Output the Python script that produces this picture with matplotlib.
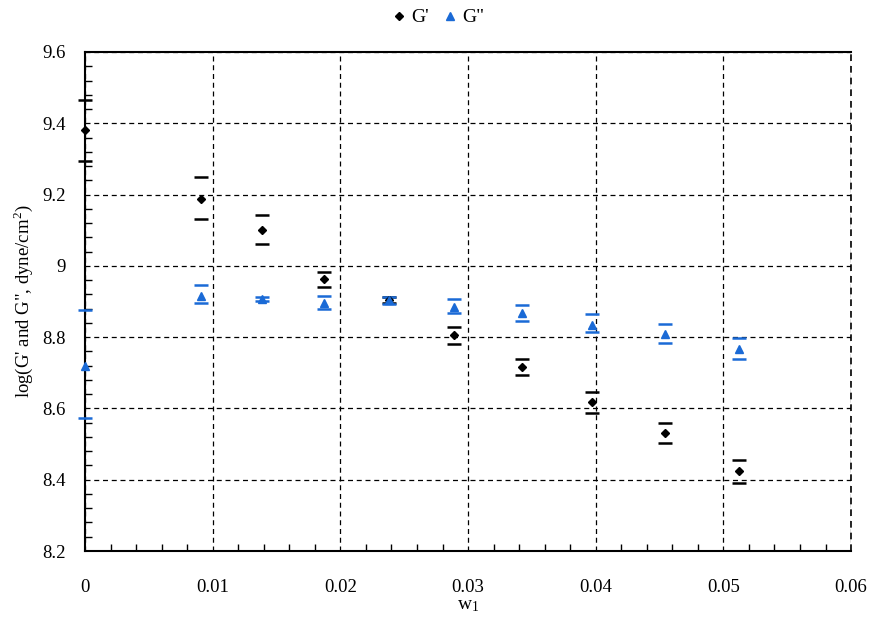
import matplotlib
matplotlib.use('Agg')
import matplotlib.pyplot as plt
from matplotlib.ticker import MultipleLocator

plt.rcParams['font.family'] = ['Liberation Serif', 'DejaVu Serif']
plt.rcParams['mathtext.fontset'] = 'stix'

# data
w1 = [0.0, 0.0091, 0.0139, 0.01875, 0.0238, 0.0289, 0.0342, 0.0397, 0.0454, 0.0512]

g1 = [9.380, 9.188, 9.101, 8.963, 8.904, 8.805, 8.715, 8.617, 8.530, 8.424]
g1_hi = [9.465, 9.248, 9.143, 8.983, 8.912, 8.828, 8.738, 8.646, 8.558, 8.455]
g1_lo = [9.294, 9.131, 9.060, 8.942, 8.896, 8.781, 8.693, 8.588, 8.502, 8.390]

g2 = [8.719, 8.915, 8.908, 8.897, 8.904, 8.884, 8.867, 8.834, 8.808, 8.767]
g2_hi = [8.876, 8.945, 8.914, 8.915, 8.913, 8.906, 8.889, 8.865, 8.837, 8.798]
g2_lo = [8.572, 8.896, 8.902, 8.880, 8.893, 8.867, 8.844, 8.815, 8.784, 8.739]

xticks = [0, 0.01, 0.02, 0.03, 0.04, 0.05, 0.06]
xtick_labels = ['0', '0.01', '0.02', '0.03', '0.04', '0.05', '0.06']
yticks = [8.2, 8.4, 8.6, 8.8, 9.0, 9.2, 9.4, 9.6]
ytick_labels = ['8.2', '8.4', '8.6', '8.8', '9', '9.2', '9.4', '9.6']

blue = '#1a6ad6'

fig = plt.figure(figsize=(8.72, 6.28), dpi=100)
ax = fig.add_axes([0.0975, 0.1226, 0.8785, 0.7946])

# error bars: caps only, like excel
err1 = [[m - l for m, l in zip(g1, g1_lo)], [h - m for m, h in zip(g1, g1_hi)]]
err2 = [[m - l for m, l in zip(g2, g2_lo)], [h - m for m, h in zip(g2, g2_hi)]]
ax.errorbar(w1, g1, yerr=err1, fmt='none', ecolor='black', elinewidth=0,
            capsize=5, capthick=1.8, zorder=3, clip_on=False)
ax.errorbar(w1, g2, yerr=err2, fmt='none', ecolor=blue, elinewidth=0,
            capsize=5, capthick=1.8, zorder=3, clip_on=False)
ax.plot(w1, g1, 'D', color='black', ms=4.5, ls='none', label="G'", zorder=4, clip_on=False)
ax.plot(w1, g2, '^', color=blue, ms=6, ls='none', label='G"', zorder=4, clip_on=False)

ax.set_xticks(xticks)
ax.set_xticklabels(xtick_labels)
ax.set_yticks(yticks)
ax.set_yticklabels(ytick_labels)
ax.xaxis.set_minor_locator(MultipleLocator(0.002))
ax.yaxis.set_minor_locator(MultipleLocator(0.04))
ax.set_xlim(0, 0.06)
ax.set_ylim(8.2, 9.6)
ax.tick_params(which='both', direction='in', labelsize=13.5)
ax.tick_params(which='major', length=0)
ax.tick_params(which='minor', length=5, width=1)
ax.tick_params(axis='x', pad=20)
ax.tick_params(axis='y', pad=14)

ax.grid(True, which='major', color='black', ls=(0, (4, 3)), lw=0.9)
# right edge is only the dashed grid line
ax.axvline(0.06, color='black', ls=(0, (4, 3)), lw=1.2, clip_on=False)
ax.spines['right'].set_visible(False)
for s in ['left', 'bottom', 'top']:
    ax.spines[s].set_linewidth(1.5)

ax.set_xlabel('w$_\\mathregular{1}$', fontsize=14)
ax.set_ylabel('log(G\' and G", dyne/cm$^\\mathregular{2}$)', fontsize=13.5)
ax.xaxis.set_label_coords(0.5, -0.093)
ax.yaxis.set_label_coords(-0.065, 0.5)

fig.legend(loc='center', bbox_to_anchor=(0.501, 0.972), ncol=2, frameon=False,
           fontsize=14, handletextpad=0.1, columnspacing=0.6, handlelength=1.0)

plt.savefig('out.png', dpi=100)
